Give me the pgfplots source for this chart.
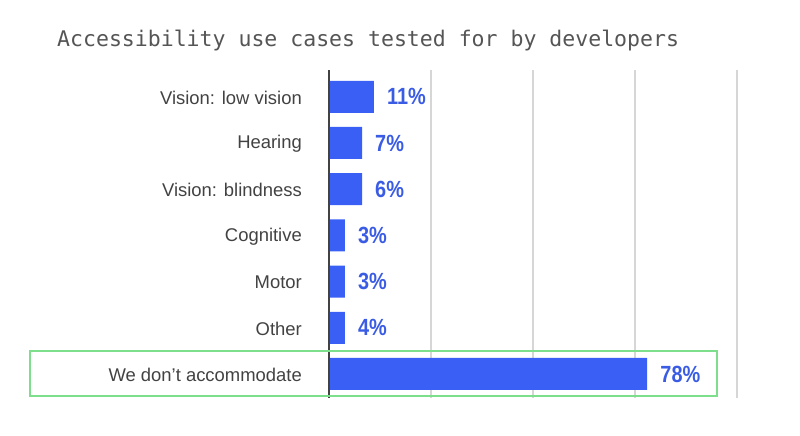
\documentclass[border=0pt]{standalone}
\usepackage{fontspec}
\setmainfont{Liberation Sans}
\newfontfamily\titlefont{DejaVu Sans Mono}
\newfontfamily\pctfont[FakeStretch=0.85]{Liberation Sans}
\usepackage{pgfplots}
\pgfplotsset{compat=1.18}
\definecolor{barblue}{RGB}{58,95,245}
\definecolor{lblblue}{RGB}{58,92,228}
\definecolor{txtgray}{RGB}{66,66,66}
\definecolor{ttlgray}{RGB}{85,85,85}
\definecolor{gridgray}{RGB}{214,214,214}
\definecolor{hlgreen}{RGB}{125,222,140}
\begin{document}
\begin{tikzpicture}
\useasboundingbox (0,0) rectangle (800bp,436bp);
\node[anchor=base west, font=\titlefont\fontsize{21.6}{24}\selectfont, text=ttlgray, inner sep=0]
  at (57bp,389bp) {Accessibility use cases tested for by developers};
\begin{axis}[
    at={(329bp,38bp)}, anchor=south west,
    scale only axis, width=408bp, height=328bp,
    xbar, bar width=32bp,
    xmin=0, xmax=100,
    ymin=-0.58, ymax=6.52,
    y dir=reverse,
    axis line style={draw=none},
    major tick length=0,
    xtick={25,50,75,100}, xticklabels={},
    xmajorgrids,
    grid style={gridgray, line width=1.3bp},
    ytick={0,...,6},
    yticklabels={Vision: low vision, Hearing, Vision: blindness, Cognitive, Motor, Other, We don’t accommodate},
    yticklabel style={font=\fontsize{18.5}{21}\selectfont, text=txtgray, anchor=east, inner sep=0, xshift=-27bp, yshift=-1bp},
    point meta=explicit symbolic,
    nodes near coords,
    every node near coord/.append style={font=\pctfont\bfseries\fontsize{23.5}{26}\selectfont, text=lblblue, anchor=west, inner sep=0, xshift=13bp},
    clip=false,
]
\addplot[fill=barblue, draw=none] coordinates {
    (11,0) [11\%]
    (8.1,1) [7\%]
    (8.1,2) [6\%]
    (3.9,3) [3\%]
    (3.9,4) [3\%]
    (3.9,5) [4\%]
    (78,6) [78\%]
};
\draw[txtgray, line width=1.2bp] (axis cs:0,-0.58) -- (axis cs:0,6.52);
\draw[hlgreen, line width=2bp] (axis cs:-73.3,5.5) rectangle (axis cs:95.1,6.47);
\end{axis}
\end{tikzpicture}
\end{document}
